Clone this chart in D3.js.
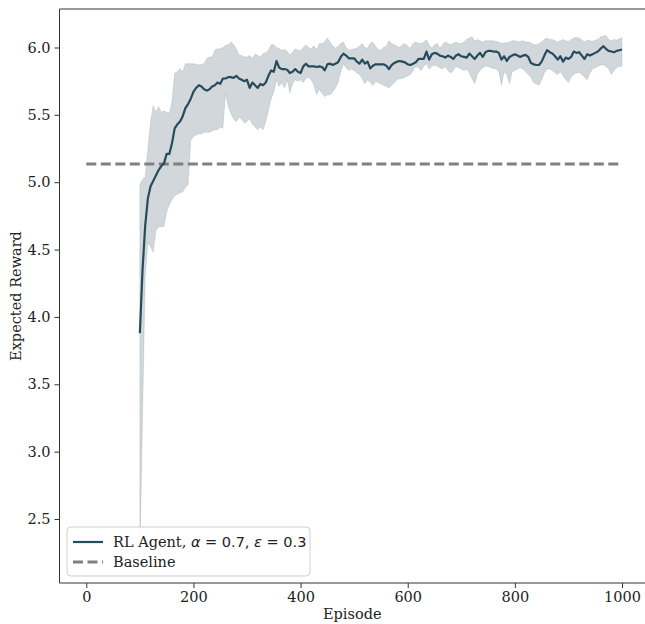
<!DOCTYPE html>
<html><head><meta charset="utf-8">
<script src="https://cdn.jsdelivr.net/npm/d3@7"></script>
<style>body{margin:0;background:#fff}svg{display:block}</style>
</head><body>
<svg id="c" width="645" height="624"></svg>
<script>
const episodes = d3.range(100, 1001, 5);
const meanReward = [3.88,4.35,4.68,4.88,4.97,5.01,5.05,5.09,5.12,5.14,5.21,5.21,5.29,5.40,5.43,5.45,5.49,5.55,5.58,5.62,
5.67,5.70,5.72,5.71,5.69,5.68,5.69,5.71,5.72,5.74,5.73,5.77,5.77,5.78,5.78,5.775,5.79,5.77,5.76,5.75,
5.76,5.70,5.74,5.72,5.70,5.73,5.72,5.74,5.79,5.83,5.82,5.90,5.85,5.84,5.84,5.835,5.81,5.82,5.84,5.82,
5.81,5.86,5.88,5.86,5.86,5.86,5.855,5.86,5.855,5.83,5.875,5.88,5.87,5.88,5.89,5.93,5.955,5.94,5.92,5.92,
5.92,5.895,5.88,5.91,5.88,5.895,5.845,5.865,5.875,5.875,5.875,5.875,5.865,5.84,5.87,5.885,5.895,5.90,5.895,5.89,
5.875,5.87,5.88,5.89,5.915,5.915,5.915,5.97,5.91,5.95,5.96,5.955,5.94,5.935,5.925,5.94,5.93,5.915,5.94,5.95,
5.935,5.93,5.925,5.955,5.935,5.915,5.94,5.96,5.93,5.965,5.975,5.975,5.97,5.97,5.96,5.91,5.935,5.90,5.93,5.94,
5.95,5.94,5.93,5.94,5.945,5.93,5.885,5.875,5.87,5.87,5.895,5.94,5.98,5.965,5.955,5.935,5.91,5.935,5.895,5.925,
5.915,5.93,5.97,5.96,5.965,5.94,5.915,5.95,5.94,5.95,5.96,5.97,5.99,6.01,5.99,5.975,5.97,5.965,5.975,5.98,5.985];
const upperReward = [4.98,5.02,5.04,5.25,5.45,5.57,5.52,5.56,5.52,5.53,5.52,5.51,5.60,5.81,5.82,5.845,5.82,5.88,5.88,5.88,
5.88,5.875,5.87,5.875,5.88,5.92,5.93,5.93,5.98,5.99,5.99,6.00,6.015,6.02,6.04,6.02,5.99,5.945,5.94,5.93,
5.93,5.94,5.92,5.95,5.94,5.93,5.955,5.96,5.98,6.02,6.02,6.00,5.99,5.98,5.985,5.97,5.945,5.965,5.99,5.98,
5.975,6.00,6.02,6.00,5.99,6.015,5.98,6.03,6.03,6.04,6.07,6.04,6.01,5.995,6.01,6.03,6.04,6.00,5.98,5.985,
5.99,5.995,6.01,6.03,6.00,5.995,6.03,6.04,6.01,5.985,5.98,6.00,6.01,6.05,6.03,6.02,6.01,6.00,6.02,6.03,
6.01,5.995,6.03,6.04,6.03,6.03,6.04,6.055,6.02,5.995,6.02,6.03,5.995,6.02,6.04,6.03,6.02,6.03,6.04,6.03,
6.03,6.04,6.06,6.07,6.08,6.05,6.06,6.05,6.04,6.05,6.05,6.05,6.05,6.045,6.04,6.03,6.035,6.035,6.04,6.05,
6.05,6.045,6.045,6.05,6.04,6.04,6.035,6.02,6.02,6.03,6.04,6.06,6.07,6.06,6.06,6.05,6.04,6.05,6.06,6.05,
6.045,6.06,6.07,6.075,6.07,6.055,6.04,6.055,6.05,6.045,6.055,6.06,6.08,6.085,6.09,6.06,6.05,6.06,6.055,6.065,6.07];
const lowerReward = [2.22,3.25,4.30,4.55,4.52,4.48,4.64,4.67,4.67,4.67,4.78,4.83,4.87,4.90,4.91,4.92,4.93,4.96,4.98,5.31,
5.34,5.35,5.36,5.36,5.37,5.37,5.37,5.38,5.39,5.39,5.41,5.40,5.66,5.56,5.51,5.47,5.45,5.48,5.47,5.44,
5.45,5.47,5.43,5.41,5.39,5.41,5.39,5.45,5.535,5.62,5.67,5.76,5.71,5.74,5.70,5.76,5.66,5.73,5.76,5.75,
5.76,5.74,5.77,5.78,5.76,5.72,5.65,5.69,5.66,5.635,5.65,5.65,5.67,5.70,5.74,5.82,5.88,5.85,5.83,5.84,
5.83,5.81,5.80,5.77,5.73,5.76,5.74,5.72,5.75,5.74,5.73,5.72,5.71,5.70,5.72,5.74,5.76,5.77,5.77,5.78,
5.79,5.80,5.83,5.86,5.85,5.83,5.86,5.88,5.84,5.86,5.87,5.86,5.85,5.84,5.86,5.83,5.81,5.83,5.86,5.85,
5.84,5.83,5.84,5.81,5.77,5.73,5.80,5.83,5.85,5.86,5.86,5.85,5.845,5.84,5.82,5.72,5.82,5.80,5.73,5.82,
5.83,5.84,5.85,5.84,5.82,5.80,5.78,5.74,5.73,5.72,5.76,5.81,5.84,5.84,5.83,5.81,5.80,5.82,5.79,5.76,
5.74,5.78,5.80,5.81,5.815,5.80,5.78,5.76,5.81,5.84,5.85,5.86,5.87,5.87,5.86,5.84,5.80,5.83,5.85,5.86,5.86];
const baselineEpisodes = [0, 1000];
const baselineValue = 5.135;
const xTicks = [0, 200, 400, 600, 800, 1000];
const yTicks = [2.5, 3.0, 3.5, 4.0, 4.5, 5.0, 5.5, 6.0];

const svg = d3.select("#c");
const L = 59.5, T = 9, B = 583, R = 648.8;
const x = d3.scaleLinear().domain([-50, 1050]).range([L, R]);
const y = d3.scaleLinear().domain([2.0249, 6.2858]).range([B, T]);
const serif = "DejaVu Serif";
const FS = 14.5;

const pts = episodes.map((e, i) => ({e, m: meanReward[i], lo: lowerReward[i], hi: upperReward[i]}));

const clip = svg.append("defs").append("clipPath").attr("id", "pa");
clip.append("rect").attr("x", L).attr("y", T).attr("width", R - L).attr("height", B - T);
const g = svg.append("g").attr("clip-path", "url(#pa)");

g.append("path").datum(pts)
  .attr("d", d3.area().x(d => x(d.e)).y0(d => y(d.lo)).y1(d => y(d.hi)))
  .attr("fill", "#2F4858").attr("fill-opacity", 0.22)
  .attr("stroke", "#2F4858").attr("stroke-opacity", 0.12).attr("stroke-width", 1);

g.append("path").datum(baselineEpisodes)
  .attr("d", d3.line().x(d => x(d)).y(() => y(baselineValue)))
  .attr("stroke", "#808080").attr("stroke-width", 3).attr("stroke-dasharray", "10,4.5").attr("fill", "none");

g.append("path").datum(pts)
  .attr("d", d3.line().x(d => x(d.e)).y(d => y(d.m)))
  .attr("stroke", "#264B5C").attr("stroke-width", 2.2).attr("fill", "none").attr("stroke-linejoin", "round");

// axes
const xa = svg.append("g").attr("transform", `translate(0,${B})`)
  .call(d3.axisBottom(x).tickValues(xTicks).tickFormat(d3.format("d")).tickSizeOuter(0).tickSize(5).tickPadding(4));
const ya = svg.append("g").attr("transform", `translate(${L},0)`)
  .call(d3.axisLeft(y).tickValues(yTicks).tickFormat(d3.format(".1f")).tickSizeOuter(0).tickSize(5).tickPadding(4));
[xa, ya].forEach(a => {
  a.select(".domain").remove();
  a.selectAll("line").attr("stroke", "#333").attr("stroke-width", 1);
  a.selectAll("text").attr("font-family", serif).attr("font-size", FS).attr("fill", "#222");
});
// spines
svg.append("line").attr("x1", L).attr("x2", L).attr("y1", T).attr("y2", B).attr("stroke", "#333").attr("stroke-width", 1);
svg.append("line").attr("x1", L).attr("x2", 645).attr("y1", B).attr("y2", B).attr("stroke", "#333").attr("stroke-width", 1);
svg.append("line").attr("x1", L).attr("x2", 645).attr("y1", T).attr("y2", T).attr("stroke", "#333").attr("stroke-width", 1);

svg.append("text").attr("x", (L + 645) / 2).attr("y", 619).attr("text-anchor", "middle")
  .attr("font-family", serif).attr("font-size", FS).attr("fill", "#222").text("Episode");
svg.append("text").attr("transform", `translate(21,${(T + B) / 2}) rotate(-90)`).attr("text-anchor", "middle")
  .attr("font-family", serif).attr("font-size", FS).attr("fill", "#222").text("Expected Reward");

// legend
const lg = svg.append("g");
lg.append("rect").attr("x", 67).attr("y", 527).attr("width", 243).attr("height", 49).attr("rx", 4)
  .attr("fill", "#fff").attr("fill-opacity", 0.85).attr("stroke", "#d0d0d0").attr("stroke-width", 1);
lg.append("line").attr("x1", 73).attr("x2", 103).attr("y1", 542).attr("y2", 542)
  .attr("stroke", "#264B5C").attr("stroke-width", 2.2);
lg.append("line").attr("x1", 73).attr("x2", 103).attr("y1", 562).attr("y2", 562)
  .attr("stroke", "#808080").attr("stroke-width", 3).attr("stroke-dasharray", "10,4.5");
const t1 = lg.append("text").attr("x", 113).attr("y", 547).attr("font-family", serif).attr("font-size", FS).attr("fill", "#222");
t1.append("tspan").text("RL Agent, ");
t1.append("tspan").attr("font-family", "DejaVu Sans").attr("font-style", "italic").text("α");
t1.append("tspan").attr("font-family", "DejaVu Sans").text(" = 0.7, ");
t1.append("tspan").attr("font-family", "DejaVu Sans").attr("font-style", "italic").text("ε");
t1.append("tspan").attr("font-family", "DejaVu Sans").text(" = 0.3");
lg.append("text").attr("x", 113).attr("y", 567).attr("font-family", serif).attr("font-size", FS).attr("fill", "#222").text("Baseline");
</script>
</body></html>
